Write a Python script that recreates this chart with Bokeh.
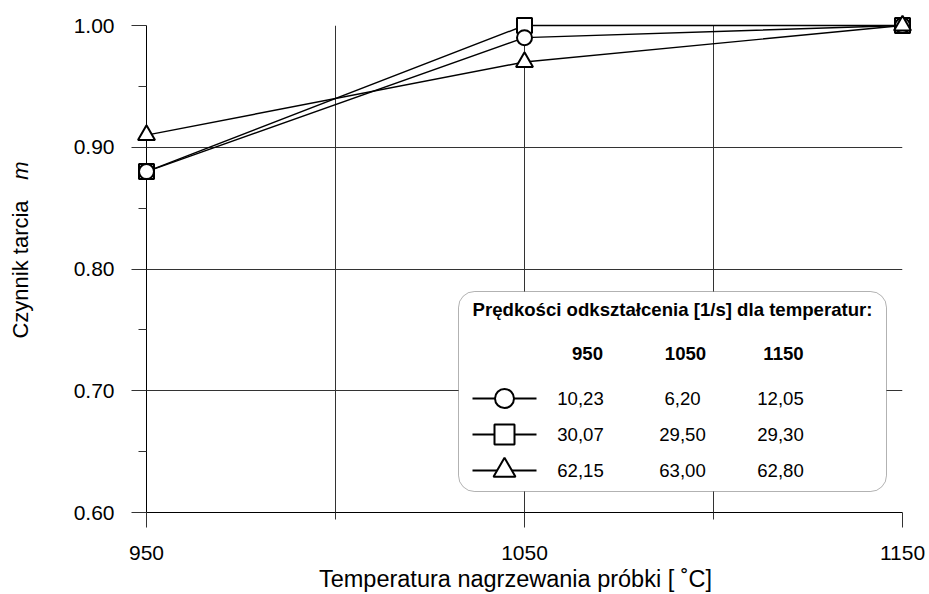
import math
from bokeh.plotting import figure
from bokeh.models import Range1d, FixedTicker, NumeralTickFormatter, BoxAnnotation
from bokeh.core.properties import value
from bokeh.embed import file_html
from bokeh.resources import INLINE

# ---------------- data ----------------
temperatures = [950, 1050, 1150]
m_circle = [0.88, 0.99, 1.00]
m_square = [0.88, 1.00, 1.00]
m_triangle = [0.91, 0.97, 1.00]

x_major_ticks = [950, 1050, 1150]
x_minor_ticks = [1000, 1100]
x_grid_ticks = [1000, 1050, 1100, 1150]
y_major_ticks = [0.60, 0.70, 0.80, 0.90, 1.00]
y_minor_ticks = [0.65, 0.75, 0.85, 0.95]
y_grid_ticks = [0.70, 0.80, 0.90, 1.00]

legend_title = "Prędkości odkształcenia [1/s] dla temperatur:"
legend_headers = ["950", "1050", "1150"]
rates_circle = ["10,23", "6,20", "12,05"]
rates_square = ["30,07", "29,50", "29,30"]
rates_triangle = ["62,15", "63,00", "62,80"]

x_title = "Temperatura nagrzewania próbki [ ˚C]"
y_title = "Czynnik tarcia"
y_symbol = "m"

# ---------------- layout ----------------
W, H = 929, 594
AX_L, AX_R, AX_T, AX_B = 146, 902, 25, 512
X0, X1 = 950, 1150
Y0, Y1 = 0.60, 1.00
ux = (X1 - X0) / (AX_R - AX_L)
uy = (Y1 - Y0) / (AX_B - AX_T)


def px_x(px):
    return X0 + (px - AX_L) * ux


def px_y(py):
    return Y0 + (AX_B - py) * uy


FONT = value("Liberation Sans")
TICK_FS = "21px"
XTITLE_FS = "23.5px"
YTITLE_FS = "22px"
LEG_FS = "18.6px"

p = figure(width=W, height=H, output_backend="svg", toolbar_location=None,
           x_range=Range1d(X0, X1), y_range=Range1d(Y0, Y1),
           min_border_left=AX_L, min_border_right=W - AX_R,
           min_border_top=AX_T, min_border_bottom=H - AX_B)
p.outline_line_color = None
p.background_fill_color = "white"
p.border_fill_color = "white"

xa = p.xaxis[0]
ya = p.yaxis[0]
xa.ticker = FixedTicker(ticks=x_major_ticks, minor_ticks=x_minor_ticks)
ya.ticker = FixedTicker(ticks=y_major_ticks, minor_ticks=y_minor_ticks)
ya.formatter = NumeralTickFormatter(format="0.00")

for ax in (xa, ya):
    ax.axis_line_color = "black"
    ax.axis_line_width = 1
    ax.major_tick_line_color = "#333333"
    ax.minor_tick_line_color = "#333333"
    ax.major_tick_in = 0
    ax.minor_tick_in = 0
    ax.major_tick_out = 15
    ax.major_label_text_font = "Liberation Sans"
    ax.major_label_text_font_size = TICK_FS
    ax.major_label_text_color = "black"
xa.minor_tick_out = 7
ya.minor_tick_out = 8
xa.major_label_standoff = 18
ya.major_label_standoff = 17

xg = p.xgrid[0]
yg = p.ygrid[0]
xg.ticker = FixedTicker(ticks=x_grid_ticks)
yg.ticker = FixedTicker(ticks=y_grid_ticks)
for g in (xg, yg):
    g.grid_line_color = "#333333"
    g.grid_line_width = 1
    g.grid_line_alpha = 1

# ---------------- series ----------------
series = [(m_square, "square", 15), (m_circle, "circle", 15), (m_triangle, "triangle", 17)]
for ys, mk, sz in series:
    p.line(temperatures, ys, line_color="black", line_width=1.4, level="overlay")
for ys, mk, sz in series:
    p.scatter(temperatures, ys, marker=mk, size=sz, fill_color="white",
              line_color="black", line_width=2, level="overlay")

# ---------------- legend box ----------------
box = BoxAnnotation(left=px_x(458), right=px_x(886), top=px_y(291), bottom=px_y(491),
                    fill_color="white", fill_alpha=1, line_color="black", line_width=1,
                    border_radius=16, level="annotation")
p.add_layout(box)

p.text(x=[px_x(672)], y=[px_y(309)], text=[legend_title], text_font=FONT,
       text_font_size=LEG_FS, text_font_style="bold", text_align="center",
       text_baseline="middle", text_color="black", level="overlay")

col_x = [px_x(587), px_x(685), px_x(783)]
val_x = [px_x(580), px_x(682), px_x(780)]
p.text(x=col_x, y=[px_y(353)] * 3, text=legend_headers, text_font=FONT,
       text_font_size=LEG_FS, text_font_style="bold", text_align="center",
       text_baseline="middle", text_color="black", level="overlay")

rows = [(rates_circle, "circle", 19, 398), (rates_square, "square", 20, 434),
        (rates_triangle, "triangle", 22, 470)]
for vals, mk, sz, ry in rows:
    yy = px_y(ry)
    p.segment(x0=[px_x(472)], y0=[yy], x1=[px_x(536)], y1=[yy], line_color="black",
              line_width=2, level="overlay")
    p.scatter(x=[px_x(504)], y=[yy], marker=mk, size=sz, fill_color="white",
              line_color="black", line_width=2, level="overlay")
    p.text(x=val_x, y=[yy] * 3, text=vals, text_font=FONT, text_font_size=LEG_FS,
           text_align="center", text_baseline="middle", text_color="black", level="overlay")

# ---------------- titles (overlay text glyphs, outside the frame) ----------------
p.text(x=[px_x(515)], y=[px_y(578)], text=[x_title], text_font=FONT,
       text_font_size=XTITLE_FS, text_align="center", text_baseline="middle",
       text_color="black", level="overlay")
p.text(x=[px_x(20)], y=[px_y(269)], text=[y_title], angle=math.pi / 2, text_font=FONT,
       text_font_size=YTITLE_FS, text_align="center", text_baseline="middle",
       text_color="black", level="overlay")
p.text(x=[px_x(20)], y=[px_y(170)], text=[y_symbol], angle=math.pi / 2, text_font=FONT,
       text_font_size=YTITLE_FS, text_font_style="italic", text_align="center",
       text_baseline="middle", text_color="black", level="overlay")

open("out.html", "w").write(file_html(p, INLINE))
